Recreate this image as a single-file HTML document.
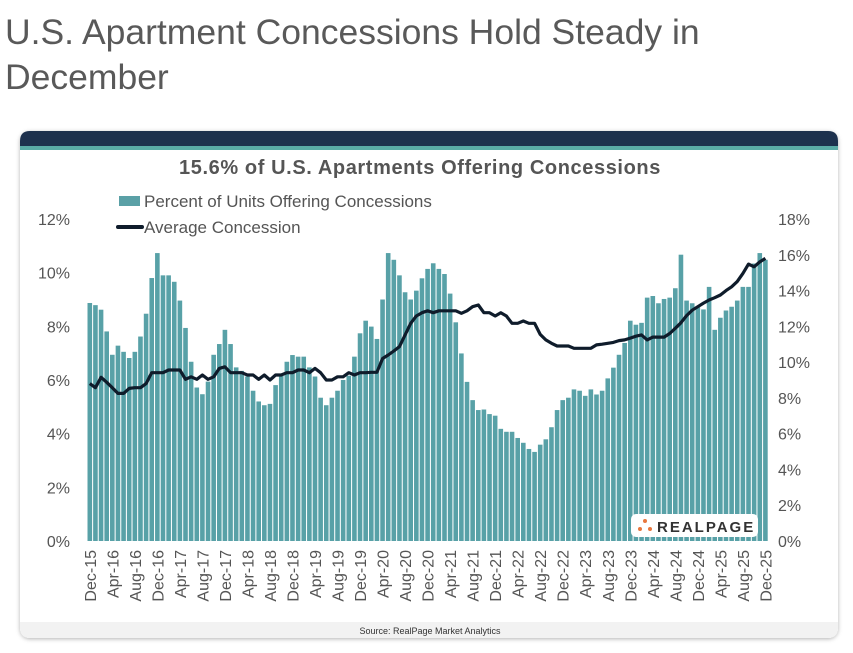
<!DOCTYPE html>
<html><head><meta charset="utf-8">
<style>
body{margin:0;background:#fff;width:853px;height:653px;overflow:hidden;font-family:"Liberation Sans",sans-serif;}
#title{position:absolute;left:5px;top:10px;font-size:35.5px;line-height:45px;color:#595959;width:780px;}
svg{position:absolute;left:0;top:0;}
</style></head><body>
<div id="title">U.S. Apartment Concessions Hold Steady in<br>December</div>
<svg id="chart" width="853" height="653">
  <defs><filter id="sh" x="-5%" y="-5%" width="110%" height="110%"><feDropShadow dx="0" dy="1" stdDeviation="2" flood-color="#000" flood-opacity="0.3"/></filter></defs>
  <g>
    <rect x="20" y="131" width="818" height="507" rx="10" fill="#fff" filter="url(#sh)"/>
    <path d="M20,146 L20,141 Q20,131 30,131 L828,131 Q838,131 838,141 L838,146 Z" fill="#1d314d"/>
    <rect x="20" y="146" width="818" height="4" fill="#5aaba6"/>
    <path d="M20,622 L838,622 L838,628 Q838,638 828,638 L30,638 Q20,638 20,628 Z" fill="#f2f2f2"/>
  </g>
  <text x="420" y="174" text-anchor="middle" font-size="20" font-weight="bold" letter-spacing="0.6" fill="#555">15.6% of U.S. Apartments Offering Concessions</text>
  <g>
    <g><rect x="119" y="196" width="21" height="10" fill="#5aa0a6"/><text x="144" y="207" font-size="17" fill="#555">Percent of Units Offering Concessions</text></g>
    <g><line x1="118" y1="227" x2="142" y2="227" stroke="#0f1c2b" stroke-width="4" stroke-linecap="round"/><text x="144" y="233" font-size="17" fill="#555">Average Concession</text></g>
  </g>
  <g id="bars"></g>
  <g id="yl"></g>
  <g id="yr"></g>
  <g id="xl"></g>
  <g>
    <rect x="631" y="514" width="127" height="23" rx="5" fill="#fff"/>
    <circle cx="645" cy="521" r="2" fill="#e8773d"/><circle cx="640" cy="529" r="2" fill="#e8773d"/><circle cx="650" cy="529" r="2" fill="#e8773d"/>
    <text x="657" y="532" font-size="15" font-weight="bold" fill="#333" letter-spacing="2">REALPAGE</text>
  </g>
  <text x="430" y="634" text-anchor="middle" font-size="9" fill="#333">Source: RealPage Market Analytics</text>
</svg>
<script>
const pctUnits = [8.87,8.79,8.62,7.81,6.94,7.28,7.05,6.82,7.05,7.62,8.47,9.8,10.73,9.9,9.9,9.66,8.96,7.94,6.68,5.72,5.47,5.94,6.94,7.34,7.87,7.34,6.47,6.34,6.13,5.6,5.2,5.06,5.11,5.81,6.16,6.68,6.93,6.87,6.87,6.47,6.13,5.34,5.06,5.34,5.6,6.0,6.16,6.87,7.74,8.21,7.99,7.53,9.0,10.73,10.48,9.9,9.27,9.0,9.33,9.79,10.14,10.35,10.14,9.95,9.22,8.15,6.99,5.93,5.25,4.88,4.9,4.73,4.67,4.18,4.07,4.07,3.84,3.66,3.43,3.32,3.59,3.79,4.24,4.88,5.25,5.34,5.65,5.6,5.41,5.65,5.46,5.6,6.06,6.46,6.94,7.38,8.21,8.06,8.13,9.07,9.13,8.86,9.02,9.07,9.42,10.67,8.96,8.86,8.71,8.63,9.47,7.87,8.32,8.59,8.73,8.96,9.47,9.47,10.34,10.73,10.48];
const avgConcession = [8.8,8.57,9.15,8.87,8.57,8.25,8.25,8.53,8.57,8.57,8.8,9.41,9.41,9.41,9.56,9.56,9.56,9.04,9.18,9.04,9.28,9.04,9.18,9.65,9.74,9.41,9.41,9.41,9.28,9.28,9.04,9.28,9.0,9.28,9.28,9.41,9.41,9.56,9.56,9.41,9.65,9.41,9.0,9.0,9.18,9.18,9.41,9.28,9.41,9.41,9.43,9.43,10.2,10.4,10.62,10.86,11.52,12.17,12.58,12.76,12.87,12.76,12.87,12.87,12.87,12.87,12.73,12.87,13.1,13.19,12.76,12.76,12.58,12.76,12.58,12.17,12.17,12.3,12.17,12.17,11.55,11.24,11.05,10.9,10.9,10.9,10.77,10.77,10.77,10.77,10.96,11.0,11.05,11.1,11.2,11.24,11.34,11.45,11.52,11.24,11.4,11.4,11.4,11.6,11.89,12.2,12.6,12.9,13.1,13.3,13.47,13.6,13.75,14.0,14.21,14.5,14.96,15.48,15.33,15.6,15.8];
const leftTicks = [0,2,4,6,8,10,12];
const rightTicks = [0,2,4,6,8,10,12,14,16,18];
const monthNames = ["Dec","Apr","Aug"];
const NS="http://www.w3.org/2000/svg";
const x0=89.8, dx=5.63, yBase=541, yTop=219;
function xPos(i){return x0+i*dx;}
function yL(v){return yBase-(yBase-yTop)*v/12;}
function yR(v){return yBase-(yBase-yTop)*v/18;}
function mk(t,a,p){const e=document.createElementNS(NS,t);for(const k in a)e.setAttribute(k,a[k]);p.appendChild(e);return e;}
const bars=document.getElementById('bars');
pctUnits.forEach((v,i)=>{
  const r=mk('rect',{x:xPos(i)-2.3,y:yL(v),width:4.6,height:yBase-yL(v),fill:'#58a1a7'},bars);
  
  
});
const pts=avgConcession.map((v,i)=>xPos(i).toFixed(1)+','+yR(v).toFixed(1)).join(' ');
const line=mk('polyline',{points:pts,fill:'none',stroke:'#0f1c2b','stroke-width':3.2,'stroke-linejoin':'round'},document.getElementById('chart'));


const yl=document.getElementById('yl');
leftTicks.forEach(v=>{const t=mk('text',{x:70,y:yL(v)+6,'text-anchor':'end','font-size':16,fill:'#555'},yl);t.textContent=v+'%';
  
  });
const yr=document.getElementById('yr');
rightTicks.forEach(v=>{const t=mk('text',{x:778,y:yR(v)+6,'font-size':16,fill:'#555'},yr);t.textContent=v+'%';
  
  });
const xl=document.getElementById('xl');
for(let i=0;i<pctUnits.length;i+=4){
  const m=monthNames[(i/4)%3];const yr2=15+Math.floor((i+11)/12);
  const x=xPos(i)+6;
  const t=mk('text',{x:x,y:550,'text-anchor':'end','font-size':16,fill:'#555',transform:'rotate(-90 '+x+' 550)'},xl);
  t.textContent=m+'-'+yr2;
  
  
}
</script>
</body></html>
